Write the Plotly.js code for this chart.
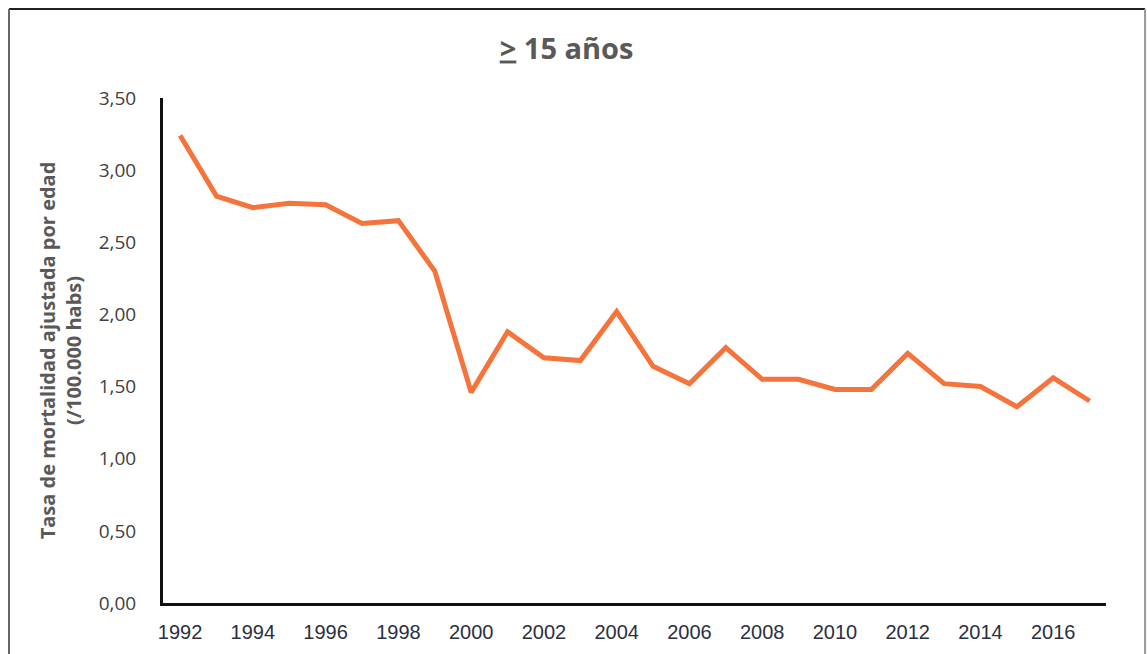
<!DOCTYPE html>
<html>
<head>
<meta charset="utf-8">
<script src="https://cdn.plot.ly/plotly-3.0.1.min.js"></script>
<style>html,body{margin:0;padding:0;background:#fff;}#chart{width:1147px;height:654px;}</style>
</head>
<body>
<div id="chart"></div>
<script>
const years = [1992,1993,1994,1995,1996,1997,1998,1999,2000,2001,2002,2003,2004,2005,2006,2007,2008,2009,2010,2011,2012,2013,2014,2015,2016,2017];
const rates = [3.24,2.82,2.74,2.77,2.76,2.63,2.65,2.30,1.46,1.88,1.70,1.68,2.02,1.64,1.52,1.77,1.55,1.55,1.48,1.48,1.73,1.52,1.50,1.36,1.56,1.40];
const xTicks = [1992,1994,1996,1998,2000,2002,2004,2006,2008,2010,2012,2014,2016];
const yTicks = [0,0.5,1,1.5,2,2.5,3,3.5];
const titleText = '<b><u>&gt;</u> 15 años</b>';
const yTitle = '<b>Tasa de mortalidad ajustada por edad<br>(/100.000 habs)</b>';

const trace = {
  x: years, y: rates, type: 'scatter', mode: 'lines',
  line: {color: '#F4743B', width: 5},
  hoverinfo: 'x+y'
};

const layout = {
  width: 1147, height: 654,
  margin: {l: 163, r: 41, t: 98, b: 51},
  paper_bgcolor: '#fff', plot_bgcolor: '#fff',
  separators: ',.',
  showlegend: false,
  title: {text: titleText, x: 0.494, xref: 'container', xanchor: 'center', y: 0.926, yanchor: 'middle',
          font: {family: 'Open Sans, Noto Sans, sans-serif', size: 29, color: '#595959'}},
  xaxis: {
    range: [1991.53, 2017.45], tickvals: xTicks, ticktext: xTicks.map(String),
    showgrid: false, zeroline: false, showline: true, linecolor: '#111', linewidth: 3,
    ticks: 'outside', ticklen: 9, tickcolor: 'rgba(0,0,0,0)',
    tickfont: {family: 'Liberation Sans, Arial, sans-serif', size: 20, color: '#2a3040'}
  },
  yaxis: {
    range: [0, 3.5], tickvals: yTicks, tickformat: '.2f',
    showgrid: false, zeroline: false, showline: true, linecolor: '#111', linewidth: 3,
    ticks: 'outside', ticklen: 20, tickcolor: 'rgba(0,0,0,0)',
    tickfont: {family: 'Open Sans, Noto Sans, sans-serif', size: 19, color: '#404040'},
    title: {text: yTitle, standoff: 12, font: {family: 'Open Sans, Noto Sans, sans-serif', size: 20, color: '#595959'}}
  },
  shapes: [
    {type: 'line', xref: 'paper', yref: 'paper', x0: -0.1633, x1: 1.0414, y0: 1.1762, y1: 1.1762, line: {color: '#222', width: 2}},
    {type: 'line', xref: 'paper', yref: 'paper', x0: -0.1633, x1: -0.1633, y0: 1.1762, y1: -0.2, line: {color: '#666', width: 2}},
    {type: 'line', xref: 'paper', yref: 'paper', x0: 1.0414, x1: 1.0414, y0: 1.1762, y1: -0.2, line: {color: '#999', width: 2}}
  ]
};

Plotly.newPlot('chart', [trace], layout, {displayModeBar: false, staticPlot: true});
</script>
</body>
</html>
